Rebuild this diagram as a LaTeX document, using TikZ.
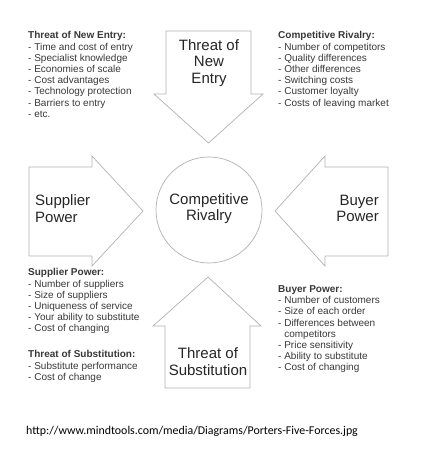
\documentclass[tikz,border=0pt]{standalone}
\usepackage{fontspec}
\setmainfont{Liberation Sans}
\newfontfamily\urlfont{Carlito}
\begin{document}
\begin{tikzpicture}[x=1pt,y=-1pt,
  force/.style={draw=black!30, fill=white, line width=0.7pt, line join=miter},
  big/.style={font=\fontsize{15}{16.7}\selectfont, text=black!85, inner sep=0},
  info/.style={font=\fontsize{10}{11.2}\selectfont, text=black!78, align=left, anchor=north west, inner sep=0},
]
\useasboundingbox (0,0) rectangle (420,465);
% arrows
\draw[force] (166,31) -- (251,31) -- (251,94) -- (263,94) -- (208.5,143) -- (154,94) -- (166,94) -- cycle;
\draw[force] (165,388) -- (250,388) -- (250,326) -- (261,326) -- (208,277) -- (153,326) -- (165,326) -- cycle;
\draw[force] (29,167) -- (92,167) -- (92,156) -- (143,211) -- (92,266) -- (92,256) -- (29,256) -- cycle;
\draw[force] (388,167) -- (325,167) -- (325,156) -- (275,211) -- (325,266) -- (325,256) -- (388,256) -- cycle;
\node[force, circle, minimum size=106pt, inner sep=0] (rival) at (209,210) {};
% big labels
\node[big, align=center] (entry) at (209,63) {Threat of\\New\\Entry};
\node[big, align=left, anchor=west] (supplier) at (35,208.5) {Supplier\\Power};
\node[big, align=center] (comp) at (209,208.5) {Competitive\\Rivalry};
\node[big, align=right, anchor=east] (buyer) at (379,208.5) {Buyer\\Power};
\node[big, align=center] (subst) at (208,361.5) {Threat of\\Substitution};
% info blocks
\node[info] (tl) at (28,31.4) {\textbf{Threat of New Entry:}\\- Time and cost of entry\\- Specialist knowledge\\- Economies of scale\\- Cost advantages\\- Technology protection\\- Barriers to entry\\- etc.};
\node[info] (tr) at (278,31.4) {\textbf{Competitive Rivalry:}\\- Number of competitors\\- Quality differences\\- Other differences\\- Switching costs\\- Customer loyalty\\- Costs of leaving market};
\node[info] (sp) at (28,268.4) {\textbf{Supplier Power:}\\- Number of suppliers\\- Size of suppliers\\- Uniqueness of service\\- Your ability to substitute\\- Cost of changing};
\node[info] (ts) at (28,350.4) {\textbf{Threat of Substitution:}\\- Substitute performance\\- Cost of change};
\node[info] (bp) at (278,285.4) {\textbf{Buyer Power:}\\- Number of customers\\- Size of each order\\- Differences between\\\phantom{- }competitors\\- Price sensitivity\\- Ability to substitute\\- Cost of changing};
\node[anchor=west, inner sep=0, font=\urlfont\fontsize{11.9}{13}\selectfont] (url) at (26,431) {http://www.mindtools.com/media/Diagrams/Porters-Five-Forces.jpg};
\end{tikzpicture}
\end{document}
